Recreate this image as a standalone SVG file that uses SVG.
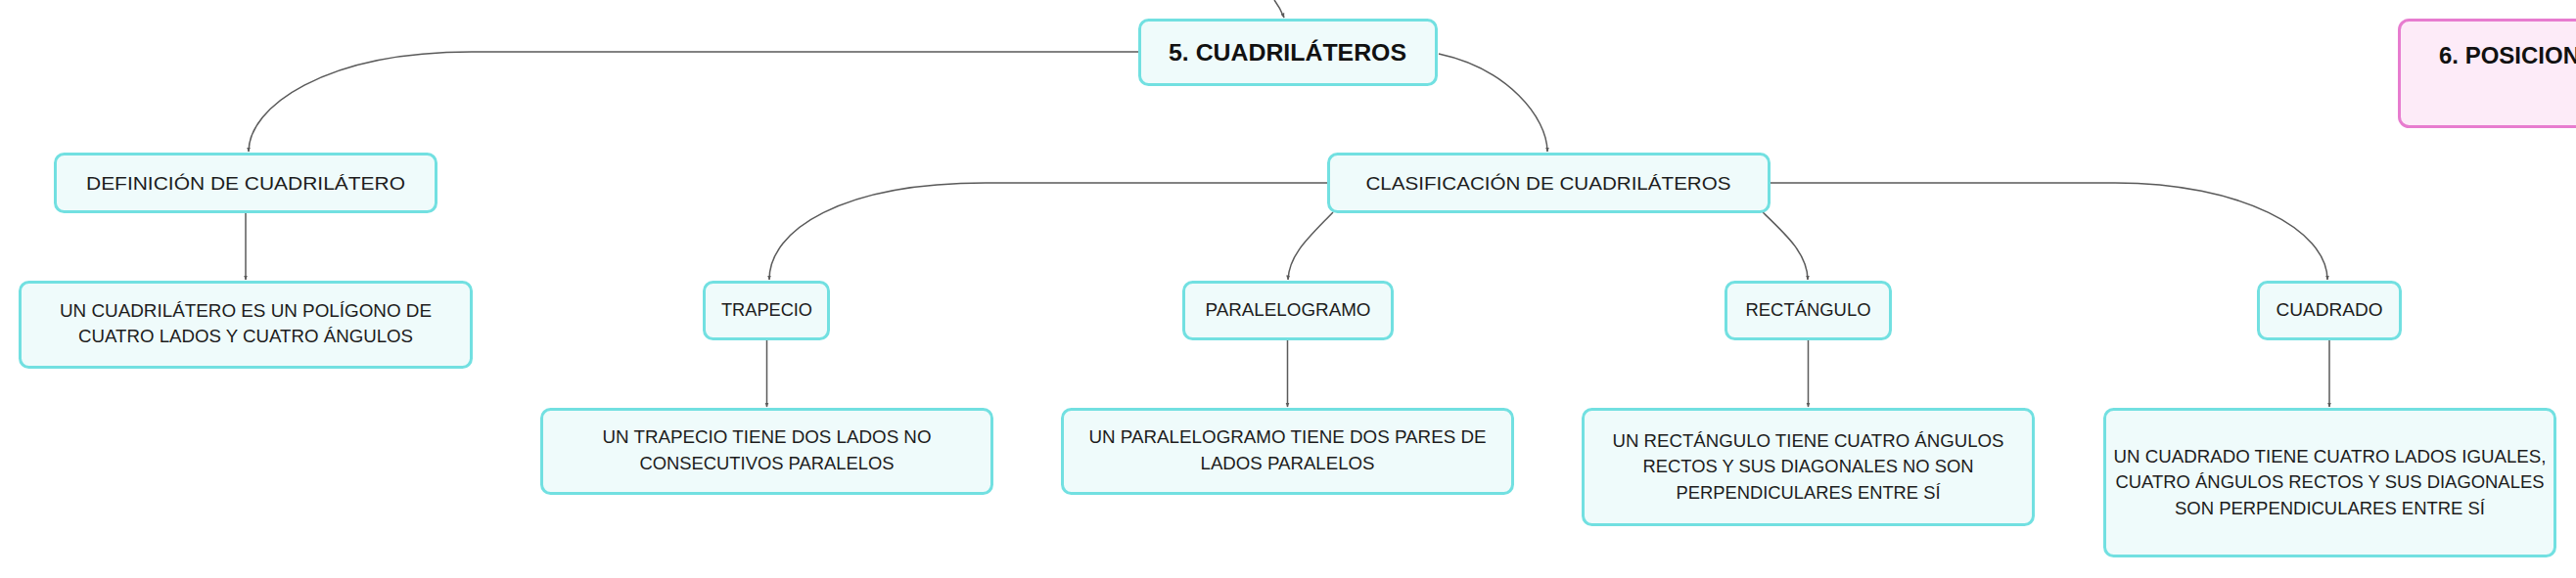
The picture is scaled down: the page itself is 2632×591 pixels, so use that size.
<svg xmlns="http://www.w3.org/2000/svg" width="2632" height="591" viewBox="0 0 2632 591">
<defs>
<style>
.box{fill:#effbfb;stroke:#72e0e1;stroke-width:3}
.pink{fill:#fdebf8;stroke:#e77ccf;stroke-width:3}
.t{font-family:"Liberation Sans",Arial,sans-serif;font-size:18px;fill:#1c1c1c;text-anchor:middle}
.h{font-family:"Liberation Sans",Arial,sans-serif;font-size:24px;font-weight:bold;fill:#111}
.c{fill:none;stroke:#5a5a5a;stroke-width:1.5;marker-end:url(#arr)}
</style>
<marker id="arr" viewBox="0 0 10 10" refX="9" refY="5" markerWidth="5" markerHeight="5" markerUnits="userSpaceOnUse" orient="auto">
<path d="M0,1 L10,5 L0,9 z" fill="#5a5a5a"/>
</marker>
</defs>
<rect width="2632" height="591" fill="#ffffff"/>
<g id="connectors">
<path class="c" d="M1302 0 Q1308 8 1312 18"/>
<path class="c" d="M1163 53 L482 53 C330 53 254 110 254 155"/>
<path class="c" d="M1470 55 C1540 70 1581 120 1581 155"/>
<path class="c" d="M251 218 L251 286"/>
<path class="c" d="M1356 187 L1007 187 C860 187 786 235 786 286"/>
<path class="c" d="M1362 217 C1338 242 1317 260 1316 286"/>
<path class="c" d="M1801 217 C1825 240 1847 260 1847 286"/>
<path class="c" d="M1809 187 L2161 187 C2290 187 2378 235 2378 286"/>
<path class="c" d="M783.5 348 L783.5 416"/>
<path class="c" d="M1315.5 348 L1315.5 416"/>
<path class="c" d="M1847.5 348 L1847.5 416"/>
<path class="c" d="M2380 348 L2380 416"/>
</g>
<g id="n5">
<rect class="box" x="1164.5" y="20.5" width="303" height="66" rx="9"/>
<text class="h" x="1315.5" y="62" text-anchor="middle" textLength="243" lengthAdjust="spacingAndGlyphs">5. CUADRILÁTEROS</text>
</g>
<g id="definicion">
<rect class="box" x="56.5" y="157.5" width="389" height="59" rx="9"/>
<text class="t" x="251" y="194" textLength="326" lengthAdjust="spacingAndGlyphs">DEFINICIÓN DE CUADRILÁTERO</text>
</g>
<g id="definicion-texto">
<rect class="box" x="20.5" y="288.5" width="461" height="87" rx="9"/>
<text class="t" x="251" y="324" textLength="380" lengthAdjust="spacingAndGlyphs">UN CUADRILÁTERO ES UN POLÍGONO DE</text>
<text class="t" x="251" y="350" textLength="342" lengthAdjust="spacingAndGlyphs">CUATRO LADOS Y CUATRO ÁNGULOS</text>
</g>
<g id="clasificacion">
<rect class="box" x="1357.5" y="157.5" width="450" height="59" rx="9"/>
<text class="t" x="1582" y="194" textLength="373" lengthAdjust="spacingAndGlyphs">CLASIFICACIÓN DE CUADRILÁTEROS</text>
</g>
<g id="trapecio">
<rect class="box" x="719.5" y="288.5" width="127" height="58" rx="9"/>
<text class="t" x="783.5" y="323" textLength="93" lengthAdjust="spacingAndGlyphs">TRAPECIO</text>
</g>
<g id="trapecio-texto">
<rect class="box" x="553.5" y="418.5" width="460" height="86" rx="9"/>
<text class="t" x="783.5" y="453" textLength="336" lengthAdjust="spacingAndGlyphs">UN TRAPECIO TIENE DOS LADOS NO</text>
<text class="t" x="783.5" y="480" textLength="260" lengthAdjust="spacingAndGlyphs">CONSECUTIVOS PARALELOS</text>
</g>
<g id="paralelogramo">
<rect class="box" x="1209.5" y="288.5" width="213" height="58" rx="9"/>
<text class="t" x="1316" y="323" textLength="169" lengthAdjust="spacingAndGlyphs">PARALELOGRAMO</text>
</g>
<g id="paralelogramo-texto">
<rect class="box" x="1085.5" y="418.5" width="460" height="86" rx="9"/>
<text class="t" x="1315.5" y="453" textLength="406" lengthAdjust="spacingAndGlyphs">UN PARALELOGRAMO TIENE DOS PARES DE</text>
<text class="t" x="1315.5" y="480" textLength="178" lengthAdjust="spacingAndGlyphs">LADOS PARALELOS</text>
</g>
<g id="rectangulo">
<rect class="box" x="1763.5" y="288.5" width="168" height="58" rx="9"/>
<text class="t" x="1847.5" y="323" textLength="128" lengthAdjust="spacingAndGlyphs">RECTÁNGULO</text>
</g>
<g id="rectangulo-texto">
<rect class="box" x="1617.5" y="418.5" width="460" height="118" rx="9"/>
<text class="t" x="1847.5" y="457" textLength="400" lengthAdjust="spacingAndGlyphs">UN RECTÁNGULO TIENE CUATRO ÁNGULOS</text>
<text class="t" x="1847.5" y="483" textLength="338" lengthAdjust="spacingAndGlyphs">RECTOS Y SUS DIAGONALES NO SON</text>
<text class="t" x="1847.5" y="510" textLength="270" lengthAdjust="spacingAndGlyphs">PERPENDICULARES ENTRE SÍ</text>
</g>
<g id="cuadrado">
<rect class="box" x="2307.5" y="288.5" width="145" height="58" rx="9"/>
<text class="t" x="2380" y="323" textLength="109" lengthAdjust="spacingAndGlyphs">CUADRADO</text>
</g>
<g id="cuadrado-texto">
<rect class="box" x="2150.5" y="418.5" width="460" height="150" rx="9"/>
<text class="t" x="2380.5" y="473" textLength="442" lengthAdjust="spacingAndGlyphs">UN CUADRADO TIENE CUATRO LADOS IGUALES,</text>
<text class="t" x="2380.5" y="499" textLength="438" lengthAdjust="spacingAndGlyphs">CUATRO ÁNGULOS RECTOS Y SUS DIAGONALES</text>
<text class="t" x="2380.5" y="526" textLength="317" lengthAdjust="spacingAndGlyphs">SON PERPENDICULARES ENTRE SÍ</text>
</g>
<g id="n6">
<rect class="pink" x="2451.5" y="20.5" width="300" height="109" rx="10"/>
<text class="h" x="2492" y="65">6. POSICION</text>
</g>
</svg>
